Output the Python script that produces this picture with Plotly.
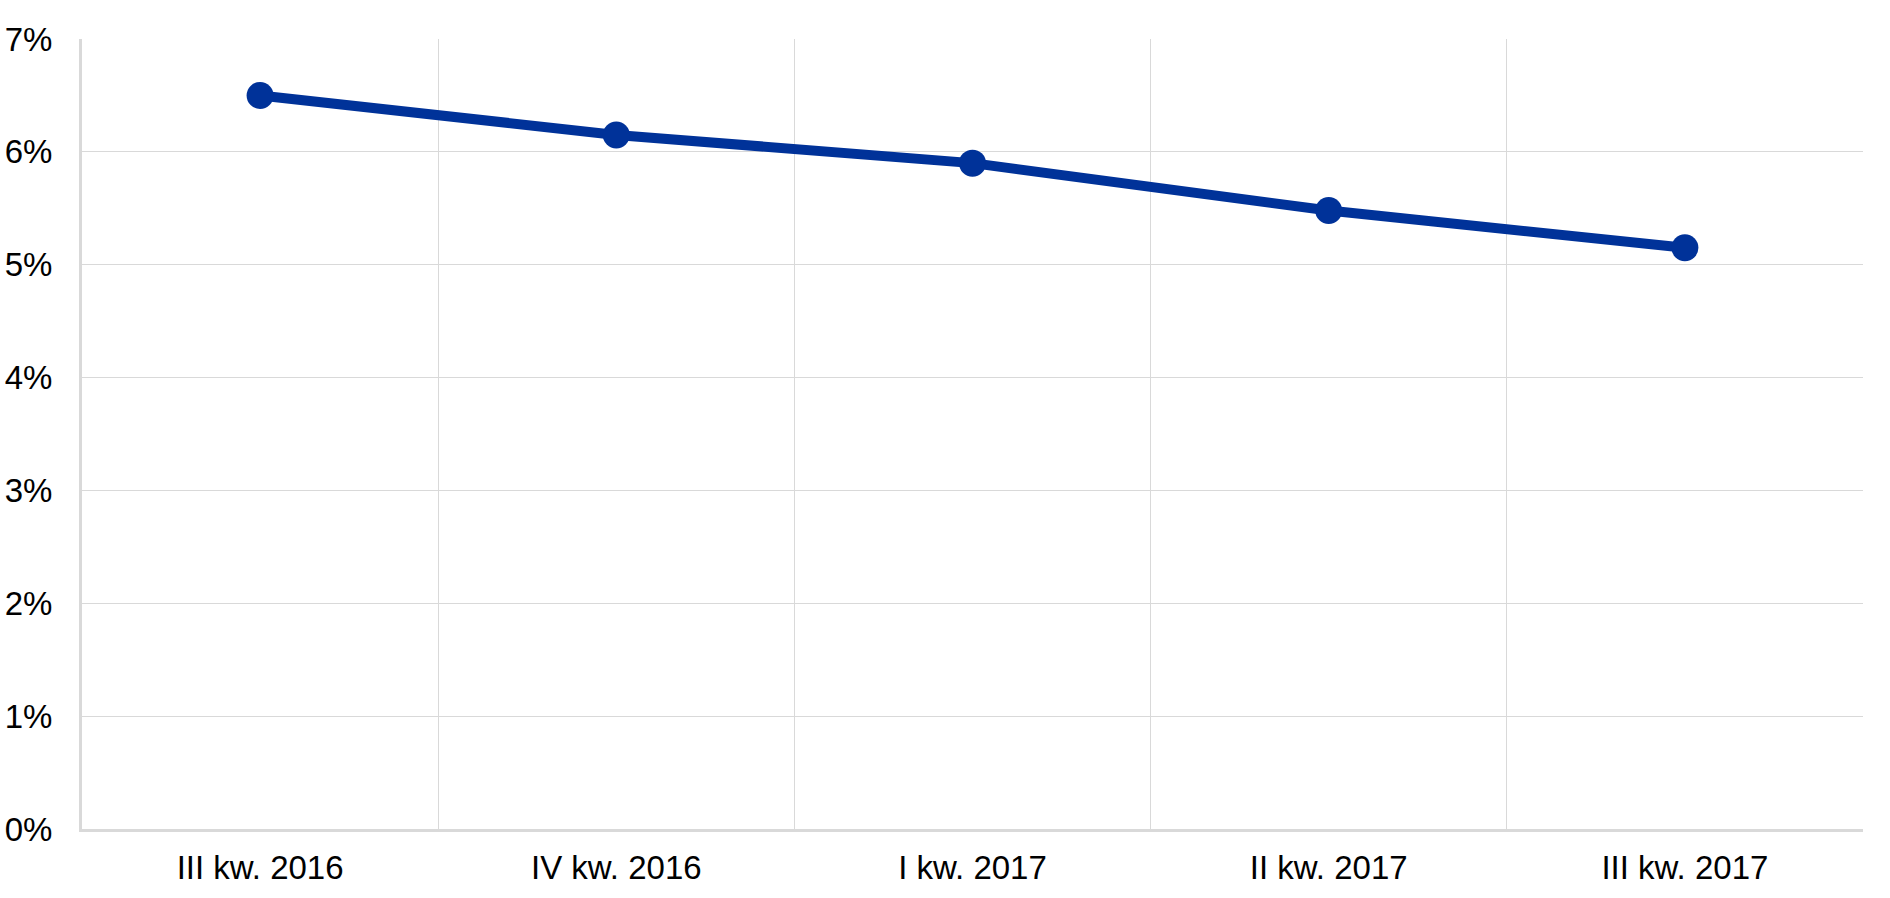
import plotly.graph_objects as go

categories = ["III kw. 2016", "IV kw. 2016", "I kw. 2017", "II kw. 2017", "III kw. 2017"]
values = [6.5, 6.15, 5.9, 5.48, 5.15]
y_ticks = [0, 1, 2, 3, 4, 5, 6, 7]
y_labels = [f"{v}%" for v in y_ticks]

fig = go.Figure()
fig.add_trace(go.Scatter(
    x=categories, y=values, mode="lines+markers",
    line=dict(color="#003299", width=10),
    marker=dict(color="#003299", size=27),
    showlegend=False,
))

font = dict(family="Liberation Sans, Arial, sans-serif", size=33, color="#000000")
fig.update_layout(
    width=1890, height=898,
    margin=dict(l=82, r=27, t=39, b=69),
    paper_bgcolor="white", plot_bgcolor="white",
    font=font,
)
fig.update_xaxes(
    type="category", range=[-0.5, 4.5], tickson="boundaries",
    showgrid=True, gridcolor="#d9d9d9", gridwidth=1,
    showline=True, linecolor="#d9d9d9", linewidth=3,
    ticks="", ticklabelstandoff=7, tickfont=font, automargin=False,
)
fig.update_yaxes(
    range=[0, 7], tickvals=y_ticks, ticktext=y_labels,
    showgrid=True, gridcolor="#d9d9d9", gridwidth=1,
    showline=True, linecolor="#d9d9d9", linewidth=3,
    zeroline=False, ticks="", ticklabelstandoff=20, tickfont=font, automargin=False,
)
fig.write_html("out.html", config={"displayModeBar": False},
               post_script="document.body.style.margin='0';")
